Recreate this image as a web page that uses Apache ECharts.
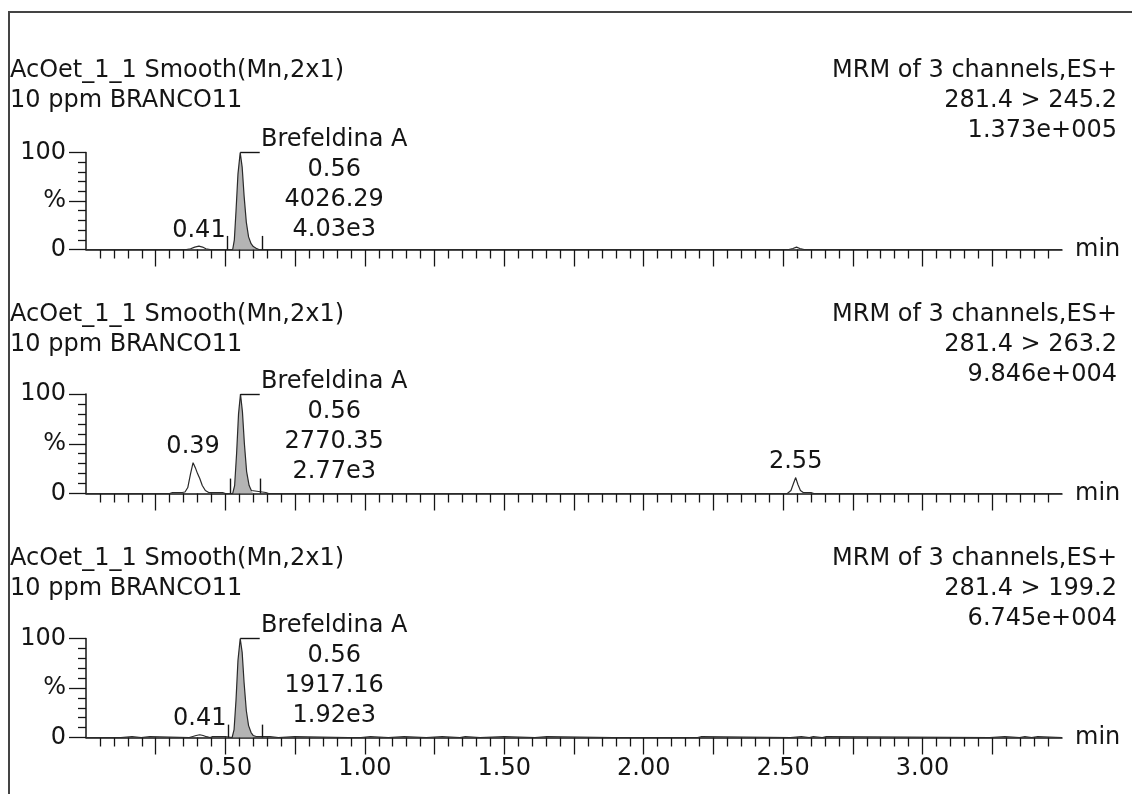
<!DOCTYPE html>
<html>
<head>
<meta charset="utf-8">
<script src="https://cdn.jsdelivr.net/npm/echarts@6/dist/echarts.min.js"></script>
<style>
  html, body { margin: 0; padding: 0; background: #fff; }
  #chart { width: 1132px; height: 794px; }
</style>
</head>
<body>
<div id="chart"></div>
<script>
// chromatograms, [time (min), intensity (%)]
const traceA = [
  [0, 0], [0.36, 0], [0.375, 0.8], [0.39, 2.5], [0.405, 3.5], [0.418, 2.5], [0.43, 0.8], [0.445, 0],
  [0.526, 0], [0.532, 10], [0.538, 40], [0.545, 78], [0.553, 100], [0.56, 85], [0.567, 55], [0.575, 28],
  [0.583, 13], [0.592, 6], [0.6, 3], [0.61, 1.2], [0.62, 0],
  [2.52, 0], [2.535, 1], [2.548, 2.5], [2.56, 1], [2.575, 0], [3.5, 0]
];
const traceB = [
  [0, 0], [0.3, 0], [0.31, 1], [0.345, 1], [0.355, 1.5], [0.365, 6], [0.375, 20], [0.384, 31], [0.392, 26],
  [0.4, 20], [0.408, 15], [0.417, 8], [0.428, 3], [0.44, 1], [0.49, 1], [0.5, 0],
  [0.526, 0], [0.533, 8], [0.54, 40], [0.547, 80], [0.554, 100], [0.561, 82], [0.568, 50], [0.576, 22],
  [0.585, 8], [0.593, 3], [0.6, 1.2], [0.645, 1], [0.655, 0],
  [0.82, 0], [0.826, 1.5], [0.832, 0], [0.94, 0], [0.945, 1.5], [0.95, 0], [1.018, 0], [1.023, 1.5], [1.028, 0],
  [1.225, 0], [1.23, 1], [1.235, 0], [1.375, 0], [1.38, 1], [1.385, 0],
  [2.19, 0], [2.195, 1.5], [2.2, 0], [2.245, 0], [2.25, 1.5], [2.255, 0],
  [2.515, 0], [2.528, 3], [2.537, 10], [2.545, 16], [2.553, 9], [2.562, 3], [2.572, 1], [2.6, 1], [2.61, 0],
  [3.5, 0]
];
const traceC = [
  [0, 0], [0.038, 0], [0.043, 1], [0.048, 0], [0.125, 0], [0.129, 1], [0.165, 1], [0.17, 0],
  [0.198, 0], [0.2, 1], [0.229, 1], [0.233, 0],
  [0.37, 0], [0.38, 0.8], [0.395, 2], [0.408, 2.8], [0.42, 2], [0.432, 0.8], [0.445, 0],
  [0.452, 0], [0.454, 1], [0.5, 1], [0.504, 0],
  [0.524, 0], [0.531, 8], [0.538, 38], [0.545, 78], [0.553, 100], [0.56, 86], [0.567, 55], [0.575, 27],
  [0.583, 12], [0.592, 5], [0.6, 2], [0.61, 1], [0.66, 1], [0.664, 0],
  [0.69, 0], [0.694, 1], [0.748, 1], [0.752, 0],
  [0.94, 0], [0.945, 1], [0.95, 0], [0.986, 0], [0.99, 1], [1.02, 1], [1.024, 0],
  [1.084, 0], [1.088, 1], [1.141, 1], [1.145, 0], [1.22, 0], [1.224, 1], [1.277, 1], [1.281, 0],
  [1.341, 0], [1.345, 1], [1.36, 1], [1.364, 0], [1.413, 0], [1.417, 1], [1.5, 1], [1.504, 0],
  [1.61, 0], [1.614, 1], [1.653, 1], [1.657, 0], [1.888, 0], [1.893, 1.2], [1.898, 0],
  [1.995, 0], [2.0, 1.2], [2.005, 0], [2.193, 0], [2.197, 1], [2.208, 1], [2.212, 0],
  [2.526, 0], [2.53, 1], [2.565, 1], [2.569, 0], [2.594, 0], [2.598, 1], [2.608, 1], [2.612, 0],
  [2.64, 0], [2.644, 1], [2.655, 1], [2.659, 0],
  [3.241, 0], [3.245, 1], [3.295, 1], [3.299, 0], [3.348, 0], [3.352, 1], [3.367, 1], [3.371, 0],
  [3.391, 0], [3.395, 1], [3.413, 1], [3.417, 0], [3.5, 0]
];
const traces = [traceA, traceB, traceC];

// integration window of the Brefeldina A peak, per channel
const peakStart = [0.506, 0.519, 0.509];
const peakEnd = [0.632, 0.625, 0.632];
const markerHeight = [14, 15, 13];
const apexTime = [0.553, 0.554, 0.553];
const apexLineEnd = [0.623, 0.623, 0.623];
const apexLineLevel = 100;

const compound = 'Brefeldina A';
const peakRt = ['0.56', '0.56', '0.56'];
const peakArea = ['4026.29', '2770.35', '1917.16'];
const peakHeight = ['4.03e3', '2.77e3', '1.92e3'];

// other labelled peaks: time, apex %, label
const minorPeaks = [
  [[0.405, 3.5, '0.41']],
  [[0.384, 31, '0.39'], [2.545, 16, '2.55']],
  [[0.408, 2.8, '0.41']]
];

const sampleName = 'AcOet_1_1 Smooth(Mn,2x1)';
const sampleDesc = '10 ppm BRANCO11';
const scanInfo = 'MRM of 3 channels,ES+';
const transitions = ['281.4 > 245.2', '281.4 > 263.2', '281.4 > 199.2'];
const maxCounts = ['1.373e+005', '9.846e+004', '6.745e+004'];

const xMajorTicks = [0.25, 0.5, 0.75, 1, 1.25, 1.5, 1.75, 2, 2.25, 2.5, 2.75, 3, 3.25];
const xLabelValues = [0.5, 1, 1.5, 2, 2.5, 3];
const yTickLabels = ['0', '%', '100'];

const FONT = 'DejaVu Sans';
const INK = '#151515';
const gridTops = [152.5, 394, 638.5];
const gridHeights = [97, 99.5, 99];

const chart = echarts.init(document.getElementById('chart'), null, { renderer: 'canvas' });

const grids = [], xAxes = [], yAxes = [], series = [], graphics = [];

traces.forEach((trace, i) => {
  grids.push({ left: 86, right: 70, top: gridTops[i], height: gridHeights[i] });

  xAxes.push({
    type: 'value', gridIndex: i, min: 0, max: 3.5, interval: 0.25,
    axisLine: { show: true, onZero: false, lineStyle: { color: INK, width: 1.5 } },
    axisTick: { show: true, length: 17, customValues: xMajorTicks, lineStyle: { color: INK, width: 1.3 } },
    minorTick: { show: true, splitNumber: 5, length: 9, lineStyle: { color: INK, width: 1.3 } },
    splitLine: { show: false },
    axisLabel: {
      show: i === 2, customValues: xLabelValues, margin: 19,
      formatter: v => v.toFixed(2), fontSize: 24, fontFamily: FONT, color: INK
    },
    name: 'min', nameLocation: 'end', nameGap: 13,
    nameTextStyle: { fontSize: 24, fontFamily: FONT, color: INK, verticalAlign: 'middle' }
  });

  yAxes.push({
    type: 'value', gridIndex: i, min: 0, max: 100, interval: 50,
    axisLine: { show: true, lineStyle: { color: INK, width: 1.5 } },
    axisTick: { show: true, length: 17, lineStyle: { color: INK, width: 1.3 } },
    minorTick: { show: true, splitNumber: 5, length: 8, lineStyle: { color: INK, width: 1.3 } },
    splitLine: { show: false },
    axisLabel: {
      margin: 20, formatter: v => yTickLabels[Math.round(v / 50)],
      fontSize: 24, fontFamily: FONT, color: INK
    }
  });

  // shaded integrated area
  series.push({
    type: 'line', xAxisIndex: i, yAxisIndex: i, symbol: 'none', silent: true,
    data: trace.filter(p => p[0] >= peakStart[i] && p[0] <= peakEnd[i]),
    lineStyle: { width: 0 },
    areaStyle: { color: '#b4b4b4', opacity: 1 },
    z: 1
  });

  const labels = minorPeaks[i].map(p => ({
    coord: [p[0], p[1]],
    label: {
      show: true, formatter: p[2], position: 'top', distance: 3,
      fontSize: 24, fontFamily: FONT, color: INK
    }
  }));
  labels.push({
    coord: [apexLineEnd[i], apexLineLevel],
    label: {
      show: true,
      formatter: [compound, peakRt[i], peakArea[i], peakHeight[i]].join('\n'),
      position: [75, -27], align: 'center', verticalAlign: 'top', lineHeight: 30,
      fontSize: 24, fontFamily: FONT, color: INK
    }
  });

  series.push({
    type: 'line', xAxisIndex: i, yAxisIndex: i, symbol: 'none', clip: false,
    data: trace,
    lineStyle: { color: '#2a2a2a', width: 1.2 },
    z: 3,
    markLine: {
      silent: true, symbol: ['none', 'none'],
      label: { show: false },
      lineStyle: { color: INK, width: 1.4, type: 'solid' },
      data: [
        [{ coord: [peakStart[i], 0] }, { coord: [peakStart[i], markerHeight[i]] }],
        [{ coord: [peakEnd[i], 0] }, { coord: [peakEnd[i], markerHeight[i]] }],
        [{ coord: [apexTime[i], apexLineLevel] }, { coord: [apexLineEnd[i], apexLineLevel] }]
      ]
    },
    markPoint: {
      silent: true, symbol: 'rect', symbolSize: 1,
      itemStyle: { color: 'rgba(0,0,0,0)' },
      data: labels
    }
  });

  // header block above each panel
  const base = gridTops[i] + gridHeights[i];
  const txt = (text, x, y, align) => ({
    type: 'text', x: x, y: y, silent: true,
    style: { text: text, fill: INK, font: '24px "' + FONT + '"', textAlign: align, textVerticalAlign: 'middle' }
  });
  graphics.push(txt(sampleName, 10, base - 179, 'left'));
  graphics.push(txt(sampleDesc, 10, base - 149, 'left'));
  graphics.push(txt(scanInfo, 1117, base - 179, 'right'));
  graphics.push(txt(transitions[i], 1117, base - 149, 'right'));
  graphics.push(txt(maxCounts[i], 1117, base - 119, 'right'));
});

// outer frame
graphics.push({
  type: 'rect', silent: true, z: -1,
  shape: { x: 9, y: 12, width: 1140, height: 800 },
  style: { fill: 'none', stroke: '#444', lineWidth: 2 }
});

chart.setOption({
  animation: false,
  backgroundColor: '#fff',
  textStyle: { fontFamily: FONT },
  grid: grids,
  xAxis: xAxes,
  yAxis: yAxes,
  series: series,
  graphic: graphics
});
</script>
</body>
</html>
